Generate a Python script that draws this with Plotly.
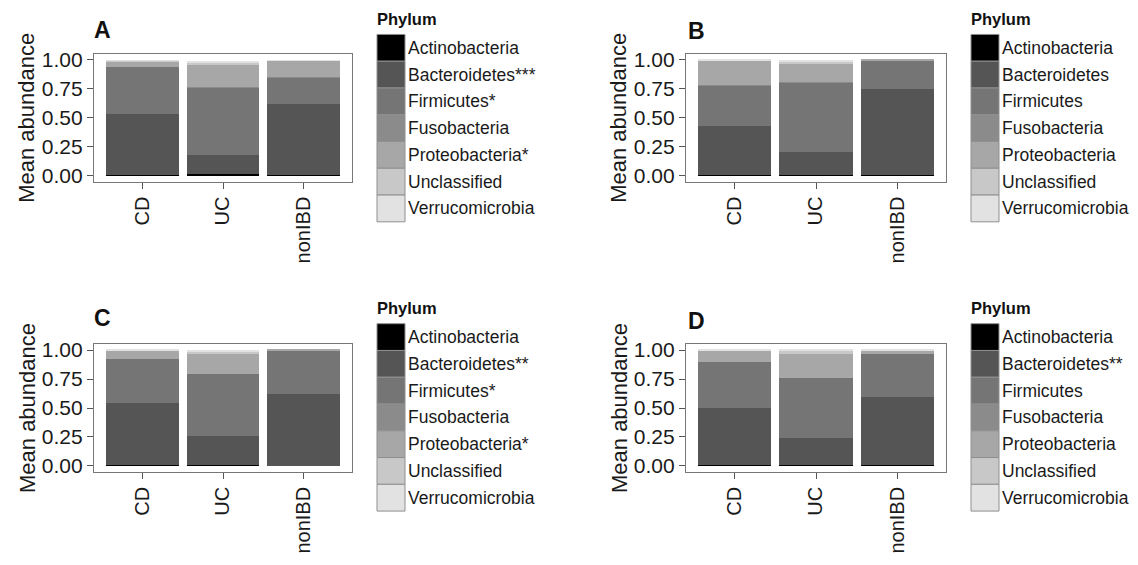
import plotly.graph_objects as go

# ---------------- data ----------------
groups = ["CD", "UC", "nonIBD"]
phyla = ["Actinobacteria", "Bacteroidetes", "Firmicutes", "Fusobacteria",
         "Proteobacteria", "Unclassified", "Verrucomicrobia"]
fill_colors = ["#000000", "#555555", "#757575", "#8b8b8b", "#a7a7a7", "#c8c8c8", "#e2e2e2"]

# mean abundance per phylum, values for [CD, UC, nonIBD]
abund_A_actino = [0.010, 0.012, 0.004]
abund_A_bacter = [0.525, 0.170, 0.612]
abund_A_firmic = [0.405, 0.575, 0.234]
abund_A_fusoba = [0.002, 0.005, 0.001]
abund_A_proteo = [0.045, 0.195, 0.140]
abund_A_unclas = [0.005, 0.020, 0.004]
abund_A_verruc = [0.005, 0.015, 0.003]

abund_B_actino = [0.010, 0.008, 0.003]
abund_B_bacter = [0.420, 0.200, 0.745]
abund_B_firmic = [0.350, 0.595, 0.250]
abund_B_fusoba = [0.002, 0.002, 0.000]
abund_B_proteo = [0.210, 0.160, 0.001]
abund_B_unclas = [0.004, 0.020, 0.000]
abund_B_verruc = [0.003, 0.014, 0.000]

abund_C_actino = [0.010, 0.005, 0.002]
abund_C_bacter = [0.530, 0.255, 0.623]
abund_C_firmic = [0.385, 0.535, 0.370]
abund_C_fusoba = [0.002, 0.002, 0.000]
abund_C_proteo = [0.065, 0.175, 0.004]
abund_C_unclas = [0.004, 0.015, 0.000]
abund_C_verruc = [0.004, 0.010, 0.000]

abund_D_actino = [0.005, 0.005, 0.005]
abund_D_bacter = [0.495, 0.235, 0.590]
abund_D_firmic = [0.395, 0.520, 0.370]
abund_D_fusoba = [0.002, 0.002, 0.001]
abund_D_proteo = [0.098, 0.208, 0.030]
abund_D_unclas = [0.003, 0.020, 0.002]
abund_D_verruc = [0.002, 0.010, 0.002]

legend_labels_A = ["Actinobacteria", "Bacteroidetes***", "Firmicutes*", "Fusobacteria",
                   "Proteobacteria*", "Unclassified", "Verrucomicrobia"]
legend_labels_B = ["Actinobacteria", "Bacteroidetes", "Firmicutes", "Fusobacteria",
                   "Proteobacteria", "Unclassified", "Verrucomicrobia"]
legend_labels_C = ["Actinobacteria", "Bacteroidetes**", "Firmicutes*", "Fusobacteria",
                   "Proteobacteria*", "Unclassified", "Verrucomicrobia"]
legend_labels_D = ["Actinobacteria", "Bacteroidetes**", "Firmicutes", "Fusobacteria",
                   "Proteobacteria", "Unclassified", "Verrucomicrobia"]

y_tickvals = [0, 0.25, 0.5, 0.75, 1.0]
y_ticktext = ["0.00", "0.25", "0.50", "0.75", "1.00"]

# ---------------- layout helpers ----------------
W, H = 1138, 565
FONT = "Liberation Sans, Arial, Helvetica, sans-serif"


def fx(px):
    return px / W


def fy(py):
    return 1 - py / H


panels = [
    dict(tag="A", series=[abund_A_actino, abund_A_bacter, abund_A_firmic, abund_A_fusoba,
                          abund_A_proteo, abund_A_unclas, abund_A_verruc],
         labels=legend_labels_A, xpx=(94, 352), ypx=(49, 179), leg=(377, 29), lab=(92, 24)),
    dict(tag="B", series=[abund_B_actino, abund_B_bacter, abund_B_firmic, abund_B_fusoba,
                          abund_B_proteo, abund_B_unclas, abund_B_verruc],
         labels=legend_labels_B, xpx=(686, 946), ypx=(49, 179), leg=(971, 29), lab=(686, 25)),
    dict(tag="C", series=[abund_C_actino, abund_C_bacter, abund_C_firmic, abund_C_fusoba,
                          abund_C_proteo, abund_C_unclas, abund_C_verruc],
         labels=legend_labels_C, xpx=(94, 352), ypx=(345, 475), leg=(377, 324), lab=(92, 318)),
    dict(tag="D", series=[abund_D_actino, abund_D_bacter, abund_D_firmic, abund_D_fusoba,
                          abund_D_proteo, abund_D_unclas, abund_D_verruc],
         labels=legend_labels_D, xpx=(686, 946), ypx=(345, 475), leg=(971, 324), lab=(686, 321)),
]

fig = go.Figure()
shapes = []
annotations = []
layout_axes = {}

KEY_W, KEY_H = 28, 27.3

for i, p in enumerate(panels, start=1):
    xa = "x" if i == 1 else f"x{i}"
    ya = "y" if i == 1 else f"y{i}"
    for name, vals, col in zip(phyla, p["series"], fill_colors):
        fig.add_trace(go.Bar(
            x=groups, y=vals, name=name, xaxis=xa, yaxis=ya,
            marker=dict(color=col, line=dict(width=0)),
            width=0.9, showlegend=False,
        ))
    xkey = "xaxis" if i == 1 else f"xaxis{i}"
    ykey = "yaxis" if i == 1 else f"yaxis{i}"
    layout_axes[xkey] = dict(
        domain=[fx(p["xpx"][0]), fx(p["xpx"][1])], anchor=ya,
        type="category", range=[-0.6, 2.6], tickangle=-90,
        ticks="outside", ticklen=6, tickcolor="#555555", tickwidth=1.2,
        showline=True, mirror=True, linecolor="#777777", linewidth=1.3,
        showgrid=False, zeroline=False,
        tickfont=dict(family=FONT, size=20, color="#1a1a1a"),
    )
    layout_axes[ykey] = dict(
        domain=[fy(p["ypx"][1]), fy(p["ypx"][0])], anchor=xa,
        range=[-0.05, 1.05], tickvals=y_tickvals, ticktext=y_ticktext,
        ticks="outside", ticklen=6, tickcolor="#555555", tickwidth=1.2,
        showline=True, mirror=True, linecolor="#777777", linewidth=1.3,
        showgrid=False, zeroline=False,
        tickfont=dict(family=FONT, size=21, color="#1a1a1a"),
    )
    # y axis title
    yc = (p["ypx"][0] + p["ypx"][1]) / 2
    annotations.append(dict(
        text="Mean abundance", textangle=-90, xref="paper", yref="paper",
        x=fx(p["xpx"][0] - 67), y=fy(yc), xanchor="center", yanchor="middle",
        showarrow=False, font=dict(family=FONT, size=22, color="#1a1a1a"),
    ))
    # panel tag
    annotations.append(dict(
        text=f"<b>{p['tag']}</b>", xref="paper", yref="paper",
        x=fx(p["lab"][0]), y=fy(p["lab"][1]), xanchor="left", yanchor="middle",
        showarrow=False, font=dict(family=FONT, size=23, color="#111111"),
    ))
    # legend
    lx, ly = p["leg"]
    annotations.append(dict(
        text="<b>Phylum</b>", xref="paper", yref="paper",
        x=fx(lx - 2), y=fy(ly - 16), xanchor="left", yanchor="middle",
        showarrow=False, font=dict(family=FONT, size=16.5, color="#111111"),
    ))
    for k, (lab, col) in enumerate(zip(p["labels"], fill_colors)):
        y0 = ly + k * KEY_H
        y1 = y0 + KEY_H
        shapes.append(dict(
            type="rect", xref="paper", yref="paper",
            x0=fx(lx), x1=fx(lx + KEY_W), y0=fy(y1), y1=fy(y0),
            fillcolor=col, line=dict(color="#8f8f8f", width=1),
        ))
        annotations.append(dict(
            text=lab, xref="paper", yref="paper",
            x=fx(lx + KEY_W + 1), y=fy((y0 + y1) / 2), xanchor="left", yanchor="middle",
            showarrow=False, font=dict(family=FONT, size=17.5, color="#1a1a1a"),
        ))

fig.update_layout(
    width=W, height=H, autosize=False,
    margin=dict(l=0, r=0, t=0, b=0),
    paper_bgcolor="white", plot_bgcolor="white",
    barmode="stack", bargap=0.1,
    shapes=shapes, annotations=annotations,
    font=dict(family=FONT),
    **layout_axes,
)

fig.write_html("out.html", config={"displayModeBar": False},
               post_script="document.body.style.margin='0px';")
